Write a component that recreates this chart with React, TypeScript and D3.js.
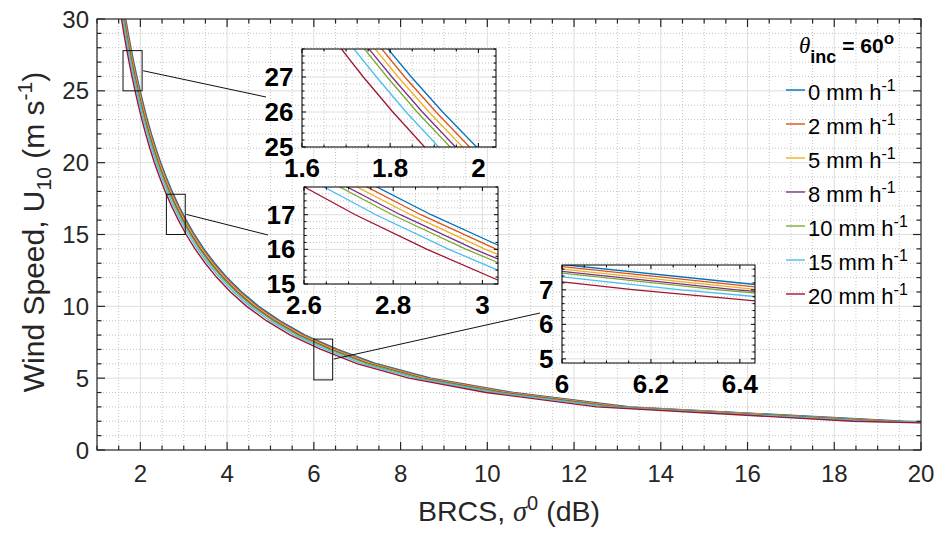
import React from 'react';
import * as d3 from 'd3';

// ---- data ----
const windSpeed = [1, 2, 3, 4, 5, 6, 7, 8, 9, 10, 11, 12, 13, 14, 15, 16, 17, 18, 19, 20, 21, 22, 23, 24, 25, 26, 27, 28, 29, 30];
const rainRates = ['0', '2', '5', '8', '10', '15', '20'];
const seriesColors = ['#0072BD', '#D95319', '#EDB120', '#7E2F8E', '#77AC30', '#4DBEEE', '#A2142F'];

const sigmaRain0 = [34, 19.6, 13.3, 10.6, 8.7, 7.45, 6.55, 5.8, 5.211, 4.73, 4.336, 4.0, 3.715, 3.464, 3.247, 3.056, 2.885, 2.733, 2.595, 2.47, 2.357, 2.255, 2.161, 2.075, 1.996, 1.919, 1.848, 1.782, 1.721, 1.663];
const sigmaRain2 = [33.73, 19.44, 13.19, 10.52, 8.63, 7.39, 6.5, 5.754, 5.169, 4.692, 4.301, 3.968, 3.685, 3.436, 3.221, 3.032, 2.862, 2.711, 2.574, 2.45, 2.338, 2.237, 2.144, 2.058, 1.98, 1.904, 1.833, 1.768, 1.707, 1.65];
const sigmaRain5 = [33.46, 19.29, 13.09, 10.43, 8.56, 7.33, 6.445, 5.707, 5.128, 4.654, 4.267, 3.936, 3.656, 3.409, 3.195, 3.007, 2.839, 2.689, 2.554, 2.43, 2.319, 2.219, 2.126, 2.042, 1.964, 1.888, 1.818, 1.753, 1.693, 1.636];
const sigmaRain8 = [33.18, 19.13, 12.98, 10.35, 8.49, 7.27, 6.393, 5.661, 5.086, 4.616, 4.232, 3.904, 3.626, 3.381, 3.169, 2.983, 2.816, 2.667, 2.533, 2.411, 2.3, 2.201, 2.109, 2.025, 1.948, 1.873, 1.804, 1.739, 1.68, 1.623];
const sigmaRain10 = [32.98, 19.01, 12.9, 10.28, 8.44, 7.23, 6.354, 5.626, 5.055, 4.588, 4.206, 3.88, 3.604, 3.36, 3.15, 2.964, 2.798, 2.651, 2.517, 2.396, 2.286, 2.187, 2.096, 2.013, 1.936, 1.861, 1.793, 1.729, 1.669, 1.613];
const sigmaRain15 = [32.54, 18.76, 12.73, 10.14, 8.33, 7.13, 6.268, 5.551, 4.987, 4.527, 4.15, 3.828, 3.555, 3.315, 3.107, 2.925, 2.761, 2.616, 2.483, 2.364, 2.256, 2.158, 2.068, 1.986, 1.91, 1.836, 1.769, 1.705, 1.647, 1.591];
const sigmaRain20 = [31.99, 18.44, 12.52, 9.97, 8.19, 7.01, 6.164, 5.458, 4.904, 4.451, 4.08, 3.764, 3.496, 3.26, 3.055, 2.876, 2.715, 2.572, 2.442, 2.324, 2.218, 2.122, 2.034, 1.953, 1.878, 1.806, 1.739, 1.677, 1.619, 1.565];
const sigmaSeries = [sigmaRain0, sigmaRain2, sigmaRain5, sigmaRain8, sigmaRain10, sigmaRain15, sigmaRain20];

// main axes ticks
const mainXTicks = [2, 4, 6, 8, 10, 12, 14, 16, 18, 20];
const mainYTicks = [0, 5, 10, 15, 20, 25, 30];

// zoom insets
const insetXDomains = [[1.6, 2.04], [2.6, 3.035], [6.0, 6.434]];
const insetYDomains = [[25, 27.8], [15, 17.8], [4.88, 7.72]];
const insetXTicks = [[1.6, 1.8, 2], [2.6, 2.8, 3], [6, 6.2, 6.4]];
const insetYTicks = [[25, 26, 27], [15, 16, 17], [5, 6, 7]];
const insetAnchorU = [26.4, 16.4, 6.33];

const FONT = "'Liberation Sans', Arial, Helvetica, sans-serif";
const SERIF = "'Liberation Serif', 'DejaVu Serif', serif";
const AX = '#262626';
const GRID_MAJOR = '#dedede';
const GRID_MINOR = '#c4c4c4';

type Scale = d3.ScaleLinear<number, number>;

function near(a: number, list: number[]) {
  return list.some((v) => Math.abs(v - a) < 1e-6);
}

function frame(
  key: string,
  x: Scale,
  y: Scale,
  xMajor: number[],
  xMinor: number[],
  yMajor: number[],
  yMinor: number[],
  color: string,
  majLen: number,
  minLen: number,
  lw: number
) {
  const [x0, x1] = x.range();
  const [y0, y1] = y.range();
  const els: React.ReactNode[] = [];
  xMajor.forEach((v, i) => {
    const px = x(v);
    els.push(<line key={`${key}xM${i}`} x1={px} x2={px} y1={y0} y2={y0 - majLen} stroke={color} strokeWidth={lw} />);
    els.push(<line key={`${key}xMt${i}`} x1={px} x2={px} y1={y1} y2={y1 + majLen} stroke={color} strokeWidth={lw} />);
  });
  xMinor.forEach((v, i) => {
    const px = x(v);
    els.push(<line key={`${key}xm${i}`} x1={px} x2={px} y1={y0} y2={y0 - minLen} stroke={color} strokeWidth={lw} />);
    els.push(<line key={`${key}xmt${i}`} x1={px} x2={px} y1={y1} y2={y1 + minLen} stroke={color} strokeWidth={lw} />);
  });
  yMajor.forEach((v, i) => {
    const py = y(v);
    els.push(<line key={`${key}yM${i}`} x1={x0} x2={x0 + majLen} y1={py} y2={py} stroke={color} strokeWidth={lw} />);
    els.push(<line key={`${key}yMr${i}`} x1={x1} x2={x1 - majLen} y1={py} y2={py} stroke={color} strokeWidth={lw} />);
  });
  yMinor.forEach((v, i) => {
    const py = y(v);
    els.push(<line key={`${key}ym${i}`} x1={x0} x2={x0 + minLen} y1={py} y2={py} stroke={color} strokeWidth={lw} />);
    els.push(<line key={`${key}ymr${i}`} x1={x1} x2={x1 - minLen} y1={py} y2={py} stroke={color} strokeWidth={lw} />);
  });
  els.push(
    <rect key={`${key}box`} x={x0} y={y1} width={x1 - x0} height={y0 - y1} fill="none" stroke={color} strokeWidth={lw} />
  );
  return els;
}

function grid(key: string, x: Scale, y: Scale, xMajor: number[], xMinor: number[], yMajor: number[], yMinor: number[]) {
  const [x0, x1] = x.range();
  const [y0, y1] = y.range();
  const els: React.ReactNode[] = [];
  xMinor.forEach((v, i) => els.push(
    <line key={`${key}gxm${i}`} x1={x(v)} x2={x(v)} y1={y0} y2={y1} stroke={GRID_MINOR} strokeWidth={1} strokeDasharray="1 2" />
  ));
  yMinor.forEach((v, i) => els.push(
    <line key={`${key}gym${i}`} x1={x0} x2={x1} y1={y(v)} y2={y(v)} stroke={GRID_MINOR} strokeWidth={1} strokeDasharray="1 2" />
  ));
  xMajor.forEach((v, i) => els.push(
    <line key={`${key}gxM${i}`} x1={x(v)} x2={x(v)} y1={y0} y2={y1} stroke={GRID_MAJOR} strokeWidth={1} />
  ));
  yMajor.forEach((v, i) => els.push(
    <line key={`${key}gyM${i}`} x1={x0} x2={x1} y1={y(v)} y2={y(v)} stroke={GRID_MAJOR} strokeWidth={1} />
  ));
  return els;
}

function minorTicks(domain: number[], step: number, majors: number[]) {
  const start = Math.ceil(domain[0] / step - 1e-9) * step;
  const out: number[] = [];
  for (let v = start; v <= domain[1] + 1e-9; v += step) {
    const r = Math.round(v * 1000) / 1000;
    if (!near(r, majors)) out.push(r);
  }
  return out;
}

export default function App() {
  const x = d3.scaleLinear().domain([1, 20]).range([97, 921]);
  const y = d3.scaleLinear().domain([0, 30]).range([450, 19]);

  const mainXMinor = minorTicks([1, 20], 0.5, mainXTicks);
  const mainYMinor = minorTicks([0, 30], 1, mainYTicks);
  const mainXGridMajor = mainXTicks.filter((v) => v < 20);

  const seriesPoints = sigmaSeries.map((s) => s.map((sg, i) => [sg, windSpeed[i]] as [number, number]));

  const insetLayout = [
    { left: 302, top: 49, width: 194, height: 98, endDx: -36, endDy: 48 },
    { left: 304, top: 187, width: 194, height: 97, endDx: -36, endDy: 48 },
    { left: 562, top: 265, width: 193, height: 98, endDx: -22, endDy: 48 },
  ];

  const mainLine = d3.line<[number, number]>().x((d) => x(d[0])).y((d) => y(d[1]));

  const legendX = 786;
  const legendY0 = 90;
  const legendDy = 34;

  return (
    <svg width={936} height={536} style={{ position: 'absolute', left: 0, top: 0, background: '#fff' }} fontFamily={FONT}>
      <defs>
        <clipPath id="clip-main">
          <rect x={97} y={19} width={824} height={431} />
        </clipPath>
        {insetLayout.map((L, k) => (
          <clipPath id={`clip-in${k}`} key={k}>
            <rect x={L.left} y={L.top} width={L.width} height={L.height} />
          </clipPath>
        ))}
      </defs>
      <rect x={0} y={0} width={936} height={536} fill="#fff" />

      {grid('main', x, y, mainXGridMajor, mainXMinor, mainYTicks.filter((v) => v > 0 && v < 30), mainYMinor)}

      <g clipPath="url(#clip-main)">
        {seriesPoints.map((pts, i) => (
          <path key={i} d={mainLine(pts) || ''} fill="none" stroke={seriesColors[i]} strokeWidth={1.4} />
        ))}
      </g>

      {frame('main', x, y, mainXTicks, mainXMinor, mainYTicks, mainYMinor, AX, 8, 4.5, 1.2)}

      {mainXTicks.map((v) => (
        <text key={`xl${v}`} x={x(v)} y={481.5} textAnchor="middle" fontSize={24} fill={AX}>{v}</text>
      ))}
      {mainYTicks.map((v) => (
        <text key={`yl${v}`} x={89} y={y(v) + 8.6} textAnchor="end" fontSize={24} fill={AX}>{v}</text>
      ))}

      <text x={509} y={521} textAnchor="middle" fontSize={28.5} fill={AX}>
        BRCS, <tspan fontFamily={SERIF} fontStyle="italic">σ</tspan>
        <tspan dy={-11} fontSize={20}>0</tspan>
        <tspan dy={11}> (dB)</tspan>
      </text>
      <text transform={`translate(44, 232) rotate(-90)`} textAnchor="middle" fontSize={30} fill={AX}>
        Wind Speed, U<tspan dy={7} fontSize={21}>10</tspan>
        <tspan dy={-7}> (m s</tspan>
        <tspan dy={-12} fontSize={21}>-1</tspan>
        <tspan dy={12}>)</tspan>
      </text>

      {insetXDomains.map((xd, k) => {
        const yd = insetYDomains[k];
        const L = insetLayout[k];
        return (
          <g key={`zr${k}`}>
            <rect x={x(xd[0])} y={y(yd[1])} width={x(xd[1]) - x(xd[0])} height={y(yd[0]) - y(yd[1])} fill="none" stroke="#111" strokeWidth={1} />
            <line x1={x(xd[1]) + 1} y1={y(insetAnchorU[k])} x2={L.left + L.endDx} y2={L.top + L.endDy} stroke="#111" strokeWidth={1} />
          </g>
        );
      })}

      {insetLayout.map((L, k) => {
        const xs = d3.scaleLinear().domain(insetXDomains[k]).range([L.left, L.left + L.width]);
        const ys = d3.scaleLinear().domain(insetYDomains[k]).range([L.top + L.height, L.top]);
        const xMin = minorTicks(insetXDomains[k], 0.05, insetXTicks[k]);
        const yMin = minorTicks(insetYDomains[k], 0.2, insetYTicks[k]);
        const ln = d3.line<[number, number]>().x((d) => xs(d[0])).y((d) => ys(d[1]));
        return (
          <g key={`in${k}`}>
            <rect x={L.left} y={L.top} width={L.width} height={L.height} fill="#fff" />
            {grid(`in${k}`, xs, ys, insetXTicks[k], xMin, insetYTicks[k], yMin)}
            <g clipPath={`url(#clip-in${k})`}>
              {seriesPoints.map((pts, i) => (
                <path key={i} d={ln(pts) || ''} fill="none" stroke={seriesColors[i]} strokeWidth={1.3} />
              ))}
            </g>
            {frame(`in${k}`, xs, ys, insetXTicks[k], xMin, insetYTicks[k], yMin, '#000', 4, 2.5, 1)}
            {insetXTicks[k].map((v) => (
              <text key={`ixl${v}`} x={xs(v)} y={L.top + L.height + 30} textAnchor="middle" fontSize={26} fontWeight="bold" fill="#000">{v}</text>
            ))}
            {insetYTicks[k].map((v) => (
              <text key={`iyl${v}`} x={L.left - 8.5} y={ys(v) + 9} textAnchor="end" fontSize={26} fontWeight="bold" fill="#000">{v}</text>
            ))}
          </g>
        );
      })}

      <text x={799} y={53.3} fontSize={21} fontWeight="bold" fill="#000">
        <tspan fontFamily={SERIF} fontStyle="italic" fontWeight="normal" fontSize={23}>θ</tspan>
        <tspan dy={10} fontSize={18}>inc</tspan>
        <tspan dy={-10}> = 60</tspan>
        <tspan dy={-9} fontSize={17}>o</tspan>
      </text>
      {rainRates.map((r, i) => {
        const ly = legendY0 + i * legendDy;
        return (
          <g key={`lg${r}`}>
            <line x1={legendX} x2={legendX + 19} y1={ly} y2={ly} stroke={seriesColors[i]} strokeWidth={1.4} />
            <text x={legendX + 22} y={ly + 10} fontSize={22} fill="#000">
              {r} mm h<tspan dy={-9} fontSize={16}>-1</tspan>
            </text>
          </g>
        );
      })}
    </svg>
  );
}
